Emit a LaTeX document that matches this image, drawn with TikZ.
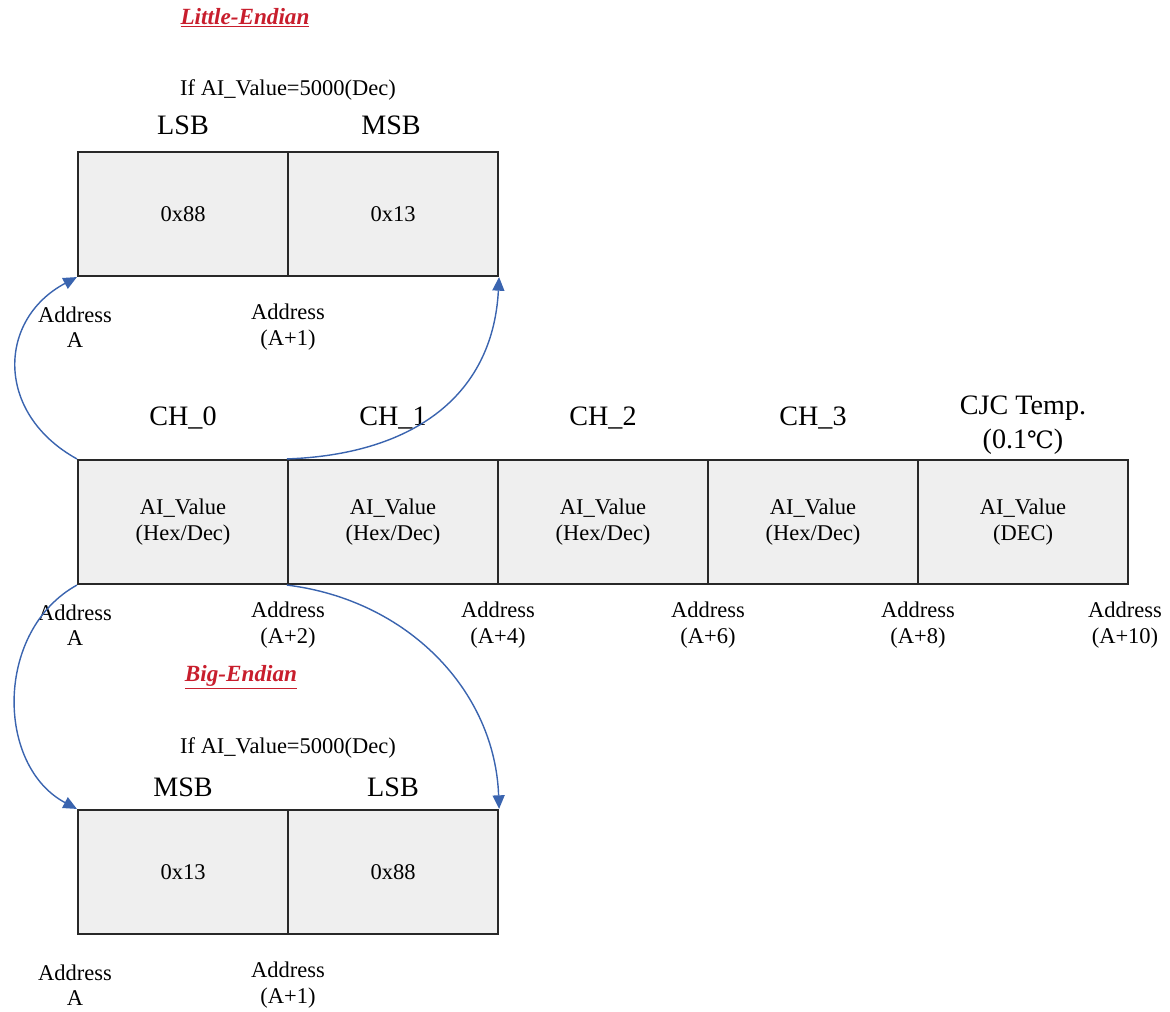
\documentclass[tikz,border=0pt]{standalone}
\usepackage{fontspec}
\setmainfont{Liberation Serif}
\newfontfamily\symfont{DejaVu Serif}
\usetikzlibrary{arrows.meta}
\definecolor{egBlue}  {RGB}{ 58,100,175}
\definecolor{egRed}   {RGB}{200, 30, 45}
\definecolor{egGreyL} {RGB}{239,239,239}
\definecolor{egLine}  {RGB}{ 40, 40, 40}

\begin{document}
\begin{tikzpicture}[
  x=0.025cm, y=-0.025cm,
  every node/.style={font=\fontsize{16}{18}\selectfont,inner sep=0pt},
  >={Triangle[length=3.4mm,width=3mm]},
  cell/.style  ={draw=egLine,fill=egGreyL,line width=1.5pt,
                 minimum width=5.25cm,minimum height=3.1cm,align=center},
  head/.style  ={font=\fontsize{20}{24}\selectfont,align=center},
  addr/.style  ={align=center},
  endian/.style={text=egRed,font=\fontsize{16.5}{18}\selectfont\bfseries\itshape},
  link/.style  ={->,egBlue,line width=1pt}
]
\useasboundingbox (0,0) rectangle (1170,1012);

% little endian
\node[endian] (le)     at (245,18)  {\underline{Little-Endian}};
\node         (lecase) at (288,90)  {If AI\_Value=5000(Dec)};
\node[head]   (lsbT)   at (183,125) {LSB};
\node[head]   (msbT)   at (391,125) {MSB};
\node[cell]   (t0)     at (183,214) {0x88};
\node[cell]   (t1)     at (393,214) {0x13};
\node[addr]   (ta0)    at (75,327)  {Address\\A};
\node[addr]   (ta1)    at (288,327) {Address\\(A+1)};

% channels
\foreach \i in {0,...,3} {
  \node[cell] (m\i)  at (183+210*\i,522) {AI\_Value\\(Hex/Dec)};
  \node[head] (ch\i) at (183+210*\i,418) {CH\_\i};
}
\node[cell] (m4)  at (1023,522) {AI\_Value\\(DEC)};
\node[head] (cjc) at (1023,425) {CJC Temp.\\(0.1{\symfont\fontsize{17}{24}\selectfont ℃})};
\foreach \i/\ax/\off in {0/75/A,1/288/(A+2),2/498/(A+4),3/708/(A+6),4/918/(A+8),5/1125/(A+10)}
  \node[addr] (ma\i) at (\ax,625) {Address\\\off};

% big endian
\node[endian] (be)     at (241,677) {\underline{Big-Endian}};
\node         (becase) at (288,748) {If AI\_Value=5000(Dec)};
\node[head]   (msbB)   at (183,787) {MSB};
\node[head]   (lsbB)   at (393,787) {LSB};
\node[cell]   (b0)     at (183,872) {0x13};
\node[cell]   (b1)     at (393,872) {0x88};
\node[addr]   (ba0)    at (75,985)  {Address\\A};
\node[addr]   (ba1)    at (288,985) {Address\\(A+1)};

\draw[link] (m0.north west) to[out=151,in=208,out distance=2.35cm,in distance=2.25cm] (t0.south west);
\draw[link] (m1.north west) to[out=2,in=267,out distance=3.05cm,in distance=3.05cm] (t1.south east);
\draw[link] (m0.south west) to[out=209,in=152,out distance=2.35cm,in distance=2.3cm] (b0.north west);
\draw[link] (m1.south west) to[out=-7,in=92,out distance=3.05cm,in distance=2.95cm] (b1.north east);
\end{tikzpicture}
\end{document}
